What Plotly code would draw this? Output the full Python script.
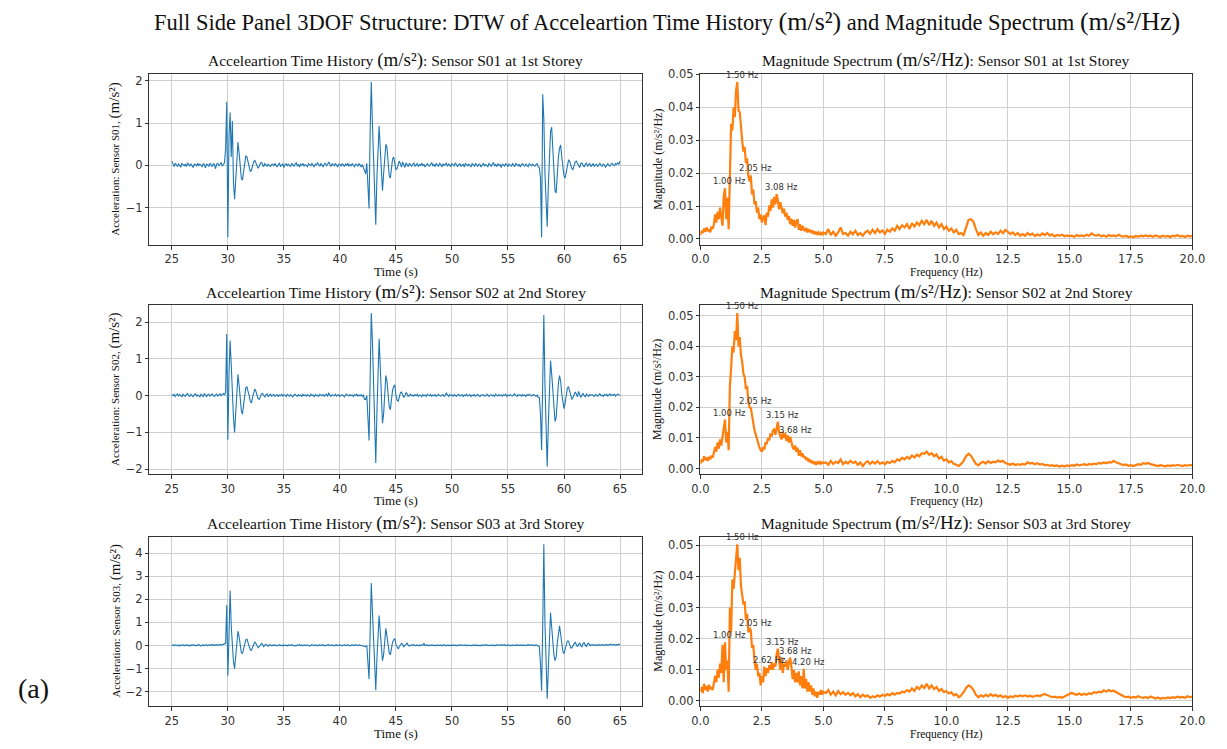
import numpy as np
import plotly.graph_objects as go

# ---------------- time-history data (sampling grid 0.1 s starting at 25 s) ----------------
T_START = 25.0
T_STEP = 0.1

s01_quiet1 = [0.10,0.02,-0.03,0.04,0.01,-0.02,0.03,0.00,-0.04,0.05,
              0.02,-0.01,0.03,-0.03,0.06,0.01,-0.02,0.04,0.00,-0.05,
              0.03,0.02,-0.02,0.05,-0.01,0.03,0.00,-0.03,0.04,0.02,
              -0.06,0.03,0.01,-0.02,0.05,0.00,-0.03,0.04,0.02,-0.08,
              0.03,0.05,-0.01,0.02,0.07,-0.02,0.04,0.06]
s01_burst1 = [0.40,1.50,-1.70,0.70,1.25,0.20,1.05,-0.40,-0.80,-0.30,
              0.30,0.55,0.30,0.00,-0.30,-0.35,-0.15,0.10,0.22,0.20,
              0.05,-0.08,-0.15,-0.12,0.00,0.08,0.12,0.05,-0.04,-0.07,
              -0.02,0.05,0.07,0.02,-0.03,0.04,0.01,-0.02,0.03,0.00,
              -0.03,0.02]
s01_quiet2 = [0.03,-0.01,0.04,0.00,-0.04,0.02,0.05,-0.02,0.01,0.03,
              -0.05,0.02,0.04,-0.01,0.03,0.00,-0.03,0.05,0.01,-0.02,
              0.03,0.06,-0.01,0.02,-0.04,0.03,0.01,0.04,-0.02,0.02,
              0.00,-0.03,0.04,0.02,-0.01,0.05,0.00,-0.04,0.03,0.01,
              0.06,0.02,-0.02,0.04,0.01,-0.03,0.03,0.05,-0.01,0.02,
              0.08,0.01,-0.03,0.04,0.02,-0.01,0.05,0.00,-0.04,0.03,
              0.02,-0.02,0.04,0.01,-0.03,0.03,0.00,0.05,-0.02,0.02,
              -0.01,0.04,0.00,-0.03,0.03,0.02,-0.02,0.04,0.01,-0.04,
              0.02,-0.05,-0.10]
s01_burst2 = [-0.20,0.05,-0.50,-1.02,0.80,1.97,1.00,0.20,-0.90,-1.40,
              -0.30,0.60,0.93,0.40,-0.30,-0.60,-0.20,0.25,0.50,0.42,
              0.00,-0.25,-0.30,-0.05,0.15,0.20,0.05,-0.10,-0.08,0.05,
              0.10,0.04,-0.04,0.08,0.03,-0.05,0.06,0.02,-0.03,0.05,
              0.01,-0.02]
s01_quiet3 = [0.03,0.05,-0.02,0.01,0.04,-0.03,0.02,0.00,0.05,-0.01,
              0.03,-0.04,0.02,0.04,0.00,-0.02,0.03,0.06,-0.01,0.02,
              -0.03,0.04,0.01,-0.02,0.05,0.02,-0.04,0.03,0.00,0.02,
              0.05,-0.02,0.03,0.01,-0.03,0.04,0.02,-0.01,0.06,0.00,
              -0.03,0.02,0.04,-0.02,0.01,0.03,-0.04,0.05,0.02,-0.01,
              0.03,0.00,-0.03,0.04,0.02,-0.02,0.05,0.01,-0.03,0.03,
              0.02,-0.04,0.03,0.05,-0.01,0.02,0.00,-0.03,0.04,0.01,
              -0.02,0.03,0.06,-0.01,0.02,-0.03,0.04,0.00,0.02,-0.05,
              0.03,0.01,-0.02,0.04,0.02,-0.03,0.03,0.00,-0.02,0.04,
              0.01,-0.03,0.05,0.02,-0.01,0.03,-0.04,0.02,0.04,0.00,
              -0.02,0.03,0.01,-0.03,0.04,0.02,-0.01,0.03,0.00,-0.02,
              0.02,0.04,-0.03]
s01_burst3 = [-0.05,-0.30,-1.70,1.68,1.10,-0.20,-1.00,-1.45,-0.50,0.40,
              0.80,0.90,0.30,-0.30,-0.60,-0.65,-0.20,0.20,0.40,0.48,
              0.20,-0.10,-0.25,-0.30,-0.15,0.05,0.12,0.10,0.00,-0.08,
              -0.10,-0.02,0.08,0.10,0.05,-0.03,-0.05,0.04,0.06,0.00,
              -0.04,0.03,0.05,-0.02,0.01,0.04,-0.03]
s01_quiet4 = [0.02,0.04,-0.02,0.01,0.03,-0.03,0.02,0.05,0.00,-0.02,
              0.03,0.01,-0.04,0.02,0.04,0.00,-0.02,0.03,0.05,0.01,
              -0.01,0.04,0.02,0.06,0.03,0.10]

s02_quiet1 = [0.03,0.00,0.04,-0.02,0.02,0.05,-0.01,0.03,0.00,-0.03,
              0.04,0.02,-0.02,0.03,0.06,0.00,-0.02,0.04,0.01,-0.03,
              0.03,0.05,-0.01,0.02,0.00,-0.03,0.04,0.02,-0.02,0.05,
              0.01,-0.02,0.03,0.04,-0.01,0.02,0.05,0.00,-0.02,0.03,
              0.04,-0.01,0.02,0.05,0.00,0.03,0.06,0.02]
s02_burst1 = [0.10,1.68,-1.20,0.60,1.50,0.85,-0.20,-0.60,-1.00,-0.40,
              0.30,0.58,0.30,-0.10,-0.40,-0.50,-0.20,0.10,0.22,0.24,
              0.15,0.00,-0.15,-0.20,-0.05,0.10,0.18,0.12,0.00,-0.08,
              -0.10,-0.02,0.05,0.06,0.00,-0.04,0.03,0.05,-0.02,0.02,
              0.04,-0.01]
s02_quiet2 = [0.02,0.04,-0.02,0.01,0.03,-0.03,0.02,0.00,0.04,-0.01,
              0.03,0.01,-0.02,0.04,0.02,-0.01,0.03,0.00,-0.03,0.02,
              0.04,0.01,-0.02,0.03,0.00,0.02,-0.03,0.04,0.01,0.02,
              -0.01,0.03,0.00,-0.02,0.04,0.01,0.02,-0.03,0.03,0.00,
              0.02,-0.02,0.04,0.01,0.00,0.03,-0.01,0.02,0.04,-0.02,
              0.08,0.01,-0.02,0.03,0.02,0.00,0.04,-0.01,0.02,0.03,
              -0.02,0.01,0.03,0.00,-0.03,0.02,0.04,0.01,-0.01,0.03,
              0.00,0.02,-0.02,0.03,0.01,0.04,-0.01,0.02,0.00,0.03,
              -0.02,0.01,-0.10]
s02_burst2 = [-0.10,0.00,-0.60,-1.22,0.50,2.25,1.50,0.10,-1.20,-1.83,
              -0.50,0.80,1.55,0.80,-0.20,-0.75,-0.50,0.10,0.55,0.40,
              0.00,-0.30,-0.38,-0.10,0.15,0.25,0.30,0.00,-0.12,-0.15,
              -0.02,0.08,0.10,0.02,-0.05,0.00,0.08,0.05,-0.03,0.02,
              0.04,0.00]
s02_quiet3 = [0.02,-0.01,0.03,0.00,0.04,-0.02,0.02,0.01,-0.03,0.03,
              0.00,0.02,-0.02,0.04,0.01,0.00,0.03,-0.01,0.02,0.00,
              0.03,-0.02,0.01,0.04,0.00,-0.01,0.02,0.03,-0.02,0.01,
              0.07,0.00,-0.02,0.03,0.01,0.02,-0.01,0.03,0.00,-0.02,
              0.02,0.04,-0.01,0.01,0.03,-0.02,0.02,0.00,0.04,-0.01,
              0.01,0.03,-0.02,0.02,0.00,0.03,-0.01,0.02,0.04,0.00,
              -0.02,0.02,0.01,0.03,-0.01,0.00,0.04,0.02,-0.02,0.01,
              0.03,0.00,0.02,-0.02,0.04,0.01,-0.01,0.03,0.00,0.02,
              -0.01,0.03,0.01,0.04,-0.02,0.02,0.00,0.03,0.01,-0.01,
              0.02,0.05,0.00,-0.02,0.03,0.01,0.02,-0.01,0.03,0.00,
              0.02,-0.02,0.03,0.01,0.04,0.00,-0.01,0.02,0.03,0.01,
              -0.02,0.02,-0.05]
s02_burst3 = [-0.05,-0.50,-1.48,1.10,2.20,0.30,-0.60,-1.93,-0.80,0.30,
              0.95,0.60,0.10,-0.40,-0.70,-0.60,0.00,0.35,0.55,0.40,
              0.05,-0.20,-0.35,-0.20,0.05,0.20,0.25,0.10,-0.05,-0.10,
              -0.05,0.05,0.10,0.05,-0.03,0.12,0.05,-0.05,0.02,0.06,
              0.00,-0.03,0.04,0.02,-0.02,0.03,0.01]
s02_quiet4 = [0.03,0.00,-0.02,0.04,0.02,-0.01,0.03,0.05,0.00,0.02,
              -0.02,0.03,0.01,0.04,-0.01,0.02,0.05,0.00,0.03,0.01,
              0.04,-0.01,0.02,0.05,0.03,0.01]

s03_quiet1 = [0.02,0.03,-0.01,0.04,0.01,0.00,0.03,-0.02,0.02,0.01,
              0.04,-0.01,0.02,0.03,0.00,0.02,-0.02,0.03,0.01,0.04,
              0.00,0.02,-0.01,0.03,0.05,0.01,-0.02,0.02,0.03,0.00,
              0.02,0.04,-0.01,0.03,0.01,0.02,0.05,0.00,0.03,0.02,
              0.04,0.01,0.03,0.05,0.02,0.04,0.03,0.06]
s03_burst1 = [0.10,1.75,-1.30,0.40,2.38,0.85,-0.30,-0.70,-1.00,-0.40,
              0.30,0.62,0.40,-0.05,-0.30,-0.35,-0.15,0.10,0.25,0.28,
              0.15,-0.05,-0.18,-0.20,-0.05,0.10,0.15,0.10,-0.05,-0.10,
              -0.05,0.05,0.10,0.05,-0.05,0.02,0.06,0.00,-0.03,0.04,
              0.02,0.00]
s03_quiet2 = [0.02,0.00,0.03,0.01,-0.01,0.02,0.04,0.00,0.02,-0.01,
              0.03,0.01,0.02,-0.02,0.03,0.00,0.02,0.04,0.01,0.00,
              0.02,-0.01,0.03,0.01,0.05,0.00,0.02,-0.01,0.03,0.02,
              0.00,0.03,0.01,-0.02,0.02,0.04,0.01,0.00,0.03,0.02,
              -0.01,0.02,0.03,0.00,0.02,0.04,-0.01,0.01,0.03,0.02,
              0.04,0.01,0.00,0.03,0.02,-0.01,0.02,0.03,0.00,0.02,
              0.03,0.01,-0.01,0.02,0.04,0.00,0.02,0.03,0.01,-0.01,
              0.02,0.03,0.00,0.02,0.04,0.01,0.00,0.03,0.02,0.01,
              0.00,-0.02,-0.05]
s03_burst2 = [-0.05,0.00,-0.70,-1.45,0.60,2.70,1.50,0.20,-1.20,-1.93,
              -0.60,0.60,1.30,0.60,-0.20,-0.65,-0.40,0.20,0.75,0.40,
              0.00,-0.30,-0.40,-0.10,0.15,0.25,0.30,0.05,-0.10,-0.15,
              -0.05,0.05,0.10,0.05,-0.05,0.00,0.08,0.10,0.02,-0.03,
              0.02,0.01]
s03_quiet3 = [0.02,0.04,0.00,0.01,0.03,-0.01,0.02,0.00,0.03,0.01,
              0.10,0.00,0.02,0.03,-0.01,0.02,0.00,0.03,0.01,0.02,
              -0.01,0.02,0.03,0.00,0.01,0.03,-0.01,0.02,0.04,0.00,
              0.01,0.03,0.02,-0.01,0.02,0.00,0.03,0.01,0.02,-0.01,
              0.03,0.00,0.02,0.04,0.01,0.00,0.02,0.03,-0.01,0.02,
              0.01,0.03,0.00,0.02,0.01,0.04,0.00,0.02,0.03,0.01,
              -0.01,0.02,0.00,0.03,0.01,0.02,0.04,0.00,0.01,0.03,
              0.02,0.00,0.03,-0.01,0.02,0.04,0.01,0.02,0.00,0.03,
              0.01,0.02,0.04,0.00,0.02,0.01,0.03,-0.01,0.02,0.03,
              0.00,0.02,0.01,0.03,0.02,0.00,0.04,0.01,0.02,0.03,
              0.01,0.00,0.03,0.02,0.04,0.01,0.02,0.03,0.00,0.02,
              0.03,0.01,-0.04]
s03_burst3 = [-0.05,-0.80,-1.95,0.80,4.38,1.00,-0.80,-2.30,-1.00,0.40,
              1.42,0.80,0.00,-0.40,-0.65,-0.50,0.10,0.50,0.85,0.50,
              0.00,-0.25,-0.35,-0.20,0.05,0.20,0.20,0.05,-0.10,-0.10,
              0.00,0.10,0.15,0.05,-0.05,0.05,0.10,0.00,-0.05,0.10,
              0.12,0.02,-0.05,0.08,0.10,0.00,0.03]
s03_quiet4 = [0.02,0.04,0.01,0.03,0.00,0.02,0.05,0.01,0.03,0.02,
              0.04,0.00,0.03,0.05,0.01,0.02,0.04,0.06,0.02,0.03,
              0.05,0.01,0.04,0.03,0.06,0.05]

# ---------------- magnitude spectra (0-5 Hz every 0.05 Hz, 5.1-20 Hz every 0.1 Hz) ----------------
F_LOW_START, F_LOW_STEP = 0.0, 0.05
F_HIGH_START, F_HIGH_STEP = 5.1, 0.1

mag_s01_low = [0.0012,0.0025,0.0018,0.0032,0.0022,0.0035,0.0024,0.0030,0.0020,0.0038,
               0.0030,0.0045,0.0075,0.0050,0.0082,0.0060,0.0095,0.0070,0.0040,0.0130,
               0.0154,0.0060,0.0125,0.0030,0.0210,0.0350,0.0330,0.0400,0.0370,0.0450,
               0.0477,0.0390,0.0385,0.0330,0.0300,0.0265,0.0280,0.0230,0.0245,0.0190,
               0.0175,0.0193,0.0135,0.0150,0.0105,0.0115,0.0080,0.0095,0.0060,0.0075,
               0.0050,0.0065,0.0072,0.0042,0.0080,0.0068,0.0102,0.0085,0.0120,0.0095,
               0.0128,0.0105,0.0136,0.0118,0.0090,0.0112,0.0098,0.0078,0.0092,0.0068,
               0.0080,0.0058,0.0070,0.0045,0.0062,0.0040,0.0058,0.0035,0.0052,0.0060,
               0.0028,0.0045,0.0025,0.0040,0.0030,0.0024,0.0034,0.0020,0.0030,0.0021,
               0.0027,0.0017,0.0025,0.0014,0.0022,0.0015,0.0020,0.0012,0.0018,0.0012,
               0.0020]
mag_s01_high = [0.0015,0.0030,0.0012,0.0022,0.0010,0.0020,0.0035,0.0015,0.0018,0.0010,
                0.0022,0.0014,0.0025,0.0012,0.0018,0.0010,0.0020,0.0025,0.0016,0.0028,
                0.0018,0.0030,0.0020,0.0026,0.0015,0.0028,0.0022,0.0032,0.0025,0.0040,
                0.0030,0.0042,0.0035,0.0045,0.0030,0.0048,0.0038,0.0050,0.0042,0.0055,
                0.0045,0.0058,0.0042,0.0055,0.0040,0.0050,0.0035,0.0045,0.0030,0.0038,
                0.0025,0.0032,0.0020,0.0028,0.0015,0.0018,0.0012,0.0035,0.0058,0.0060,
                0.0052,0.0030,0.0012,0.0020,0.0010,0.0018,0.0012,0.0022,0.0014,0.0020,
                0.0015,0.0025,0.0018,0.0028,0.0022,0.0015,0.0020,0.0012,0.0018,0.0010,
                0.0015,0.0010,0.0018,0.0012,0.0016,0.0009,0.0014,0.0010,0.0017,0.0012,
                0.0018,0.0010,0.0014,0.0008,0.0012,0.0010,0.0013,0.0008,0.0011,0.0009,
                0.0010,0.0007,0.0012,0.0009,0.0011,0.0008,0.0013,0.0010,0.0017,0.0012,
                0.0010,0.0013,0.0008,0.0011,0.0007,0.0012,0.0009,0.0011,0.0008,0.0013,
                0.0009,0.0007,0.0010,0.0006,0.0008,0.0005,0.0009,0.0007,0.0010,0.0008,
                0.0011,0.0008,0.0010,0.0007,0.0011,0.0009,0.0006,0.0010,0.0007,0.0009,
                0.0006,0.0010,0.0008,0.0012,0.0007,0.0009,0.0006,0.0010,0.0008,0.0009]

mag_s02_low = [0.0015,0.0030,0.0022,0.0040,0.0028,0.0035,0.0025,0.0038,0.0030,0.0042,
               0.0035,0.0050,0.0070,0.0055,0.0085,0.0065,0.0095,0.0075,0.0110,0.0130,
               0.0160,0.0085,0.0120,0.0060,0.0270,0.0330,0.0400,0.0380,0.0450,0.0420,
               0.0509,0.0400,0.0430,0.0370,0.0350,0.0310,0.0300,0.0260,0.0270,0.0220,
               0.0200,0.0198,0.0165,0.0150,0.0125,0.0110,0.0095,0.0085,0.0070,0.0060,
               0.0055,0.0070,0.0062,0.0085,0.0080,0.0100,0.0092,0.0115,0.0105,0.0125,
               0.0128,0.0110,0.0140,0.0153,0.0118,0.0105,0.0095,0.0120,0.0100,0.0115,
               0.0090,0.0108,0.0085,0.0104,0.0080,0.0070,0.0062,0.0075,0.0055,0.0068,
               0.0042,0.0060,0.0040,0.0050,0.0035,0.0040,0.0028,0.0035,0.0022,0.0030,
               0.0018,0.0025,0.0015,0.0022,0.0012,0.0020,0.0014,0.0024,0.0016,0.0020,
               0.0018]
mag_s02_high = [0.0020,0.0012,0.0025,0.0015,0.0022,0.0018,0.0030,0.0014,0.0022,0.0016,
                0.0025,0.0018,0.0022,0.0012,0.0020,0.0008,0.0018,0.0024,0.0015,0.0022,
                0.0016,0.0024,0.0015,0.0020,0.0014,0.0022,0.0018,0.0025,0.0020,0.0030,
                0.0026,0.0035,0.0030,0.0038,0.0032,0.0042,0.0036,0.0045,0.0040,0.0050,
                0.0048,0.0055,0.0045,0.0050,0.0040,0.0046,0.0032,0.0038,0.0026,0.0030,
                0.0020,0.0024,0.0015,0.0012,0.0008,0.0015,0.0025,0.0040,0.0048,0.0042,
                0.0030,0.0015,0.0010,0.0018,0.0022,0.0016,0.0024,0.0018,0.0022,0.0020,
                0.0026,0.0022,0.0025,0.0018,0.0015,0.0012,0.0016,0.0011,0.0014,0.0012,
                0.0015,0.0013,0.0020,0.0016,0.0018,0.0014,0.0017,0.0013,0.0015,0.0010,
                0.0012,0.0009,0.0011,0.0008,0.0010,0.0006,0.0009,0.0007,0.0010,0.0008,
                0.0011,0.0009,0.0013,0.0010,0.0012,0.0014,0.0011,0.0015,0.0013,0.0016,
                0.0014,0.0018,0.0016,0.0020,0.0017,0.0021,0.0019,0.0025,0.0020,0.0016,
                0.0014,0.0011,0.0013,0.0009,0.0011,0.0008,0.0012,0.0014,0.0012,0.0017,
                0.0015,0.0018,0.0014,0.0012,0.0010,0.0008,0.0011,0.0009,0.0007,0.0010,
                0.0008,0.0011,0.0009,0.0012,0.0010,0.0008,0.0011,0.0009,0.0012,0.0010]

mag_s03_low = [0.0030,0.0045,0.0025,0.0055,0.0035,0.0048,0.0030,0.0052,0.0038,0.0045,
               0.0035,0.0055,0.0080,0.0060,0.0100,0.0075,0.0120,0.0090,0.0180,0.0060,
               0.0188,0.0100,0.0130,0.0030,0.0300,0.0220,0.0390,0.0360,0.0410,0.0440,
               0.0503,0.0420,0.0460,0.0370,0.0340,0.0310,0.0320,0.0260,0.0280,0.0220,
               0.0235,0.0227,0.0170,0.0180,0.0130,0.0100,0.0120,0.0080,0.0090,0.0050,
               0.0080,0.0060,0.0110,0.0080,0.0105,0.0090,0.0115,0.0100,0.0125,0.0100,
               0.0120,0.0110,0.0150,0.0168,0.0130,0.0100,0.0140,0.0090,0.0120,0.0110,
               0.0130,0.0100,0.0125,0.0139,0.0110,0.0070,0.0100,0.0060,0.0090,0.0060,
               0.0095,0.0050,0.0080,0.0040,0.0103,0.0040,0.0070,0.0030,0.0060,0.0030,
               0.0050,0.0020,0.0040,0.0015,0.0030,0.0010,0.0030,0.0020,0.0035,0.0020,
               0.0030]
mag_s03_high = [0.0025,0.0035,0.0020,0.0030,0.0018,0.0032,0.0022,0.0028,0.0020,0.0026,
                0.0018,0.0025,0.0015,0.0022,0.0012,0.0020,0.0014,0.0018,0.0010,0.0015,
                0.0012,0.0018,0.0014,0.0020,0.0016,0.0022,0.0018,0.0025,0.0020,0.0026,
                0.0024,0.0030,0.0028,0.0035,0.0030,0.0040,0.0032,0.0045,0.0038,0.0050,
                0.0042,0.0055,0.0040,0.0050,0.0038,0.0045,0.0032,0.0038,0.0028,0.0032,
                0.0024,0.0028,0.0018,0.0022,0.0012,0.0018,0.0028,0.0042,0.0050,0.0045,
                0.0035,0.0020,0.0012,0.0018,0.0014,0.0020,0.0015,0.0022,0.0016,0.0020,
                0.0014,0.0018,0.0012,0.0016,0.0010,0.0015,0.0012,0.0017,0.0014,0.0018,
                0.0015,0.0018,0.0014,0.0017,0.0013,0.0016,0.0018,0.0015,0.0020,0.0022,
                0.0018,0.0015,0.0012,0.0014,0.0011,0.0013,0.0010,0.0014,0.0018,0.0022,
                0.0026,0.0022,0.0020,0.0024,0.0019,0.0023,0.0020,0.0025,0.0022,0.0028,
                0.0026,0.0030,0.0028,0.0034,0.0030,0.0035,0.0031,0.0033,0.0028,0.0024,
                0.0018,0.0015,0.0012,0.0014,0.0010,0.0013,0.0011,0.0015,0.0012,0.0010,
                0.0012,0.0009,0.0014,0.0010,0.0008,0.0011,0.0007,0.0010,0.0008,0.0011,
                0.0009,0.0012,0.0010,0.0014,0.0011,0.0013,0.0010,0.0015,0.0012,0.0014]

# labelled peaks
peak_freqs_s01 = [1.50, 1.00, 2.05, 3.08]
peak_mags_s01 = [0.0477, 0.0154, 0.0193, 0.0136]
peak_freqs_s02 = [1.50, 1.00, 2.05, 3.15, 3.68]
peak_mags_s02 = [0.0509, 0.0160, 0.0198, 0.0153, 0.0104]
peak_freqs_s03 = [1.50, 1.00, 2.05, 3.15, 3.68, 2.62, 4.20]
peak_mags_s03 = [0.0503, 0.0188, 0.0227, 0.0168, 0.0139, 0.0110, 0.0103]

sensor_ids = ["S01", "S02", "S03"]
storeys = ["1st", "2nd", "3rd"]

# ---------------- build arrays ----------------
def join(*parts):
    return np.concatenate([np.asarray(p, dtype=float) for p in parts])

acc = [
    join(s01_quiet1, s01_burst1, s01_quiet2, s01_burst2, s01_quiet3, s01_burst3, s01_quiet4),
    join(s02_quiet1, s02_burst1, s02_quiet2, s02_burst2, s02_quiet3, s02_burst3, s02_quiet4),
    join(s03_quiet1, s03_burst1, s03_quiet2, s03_burst2, s03_quiet3, s03_burst3, s03_quiet4),
]
times = [np.round(T_START + T_STEP * np.arange(len(a)), 2) for a in acc]

mags = [join(mag_s01_low, mag_s01_high), join(mag_s02_low, mag_s02_high), join(mag_s03_low, mag_s03_high)]
freqs = [join(np.round(F_LOW_START + F_LOW_STEP * np.arange(len(lo)), 3),
              np.round(F_HIGH_START + F_HIGH_STEP * np.arange(len(hi)), 3))
         for lo, hi in [(mag_s01_low, mag_s01_high), (mag_s02_low, mag_s02_high), (mag_s03_low, mag_s03_high)]]
peaks = [(peak_freqs_s01, peak_mags_s01), (peak_freqs_s02, peak_mags_s02), (peak_freqs_s03, peak_mags_s03)]

# ---------------- layout geometry ----------------
W, H = 1227, 749
LEFT_X = [143 / W, 645 / W]
RIGHT_X = [704 / W, 1205 / W]
ROWS_PX = [(68, 241), (302, 473), (536, 708)]

SERIF = "Liberation Serif, Times New Roman, serif"
SANS = "DejaVu Sans, Arial, sans-serif"
TXT = "#111111"
TICK = "#333333"

fig = go.Figure()
annotations = []
layout_axes = {}

def pad_range(vals, frac=0.05):
    lo, hi = float(np.min(vals)), float(np.max(vals))
    p = (hi - lo) * frac
    return [lo - p, hi + p]

axis_common = dict(showline=True, mirror=True, linecolor="#333333", linewidth=1,
                   ticks="outside", ticklen=3.5, tickwidth=1, tickcolor="#333333",
                   showgrid=True, gridcolor="#cfcfcf", gridwidth=1, zeroline=False,
                   tickfont=dict(family=SANS, size=11.5, color=TICK))

UNIT_A = "(m/s²)"
UNIT_M = "(m/s²/Hz)"

for r in range(3):
    top, bot = ROWS_PX[r]
    ydom = [1 - bot / H, 1 - top / H]
    li, ri = 2 * r + 1, 2 * r + 2
    lx, ly = f"x{li}", f"y{li}"
    rx, ry = f"x{ri}", f"y{ri}"

    fig.add_trace(go.Scatter(x=times[r], y=acc[r], mode="lines",
                             line=dict(color="#1f77b4", width=1.1),
                             xaxis=lx, yaxis=ly, showlegend=False))
    fig.add_trace(go.Scatter(x=freqs[r], y=mags[r], mode="lines",
                             line=dict(color="#ff7f0e", width=2.2),
                             xaxis=rx, yaxis=ry, showlegend=False))

    layout_axes[f"xaxis{li}"] = dict(axis_common, domain=LEFT_X, anchor=ly, range=pad_range(times[r]),
                                      tick0=25, dtick=5)
    layout_axes[f"yaxis{li}"] = dict(axis_common, domain=ydom, anchor=lx, range=pad_range(acc[r]),
                                      tick0=0, dtick=1)
    layout_axes[f"xaxis{ri}"] = dict(axis_common, domain=RIGHT_X, anchor=ry, range=[0, 20],
                                      tick0=0, dtick=2.5, tickformat=".1f")
    layout_axes[f"yaxis{ri}"] = dict(axis_common, domain=ydom, anchor=rx, range=pad_range(mags[r]),
                                      tick0=0, dtick=0.01, tickformat=".2f")

    sid, st = sensor_ids[r], storeys[r]
    # subplot titles
    annotations.append(dict(
        text=f"Acceleartion Time History <span style='font-size:19px'>{UNIT_A}</span>: Sensor {sid} at {st} Storey",
        x=(LEFT_X[0] + LEFT_X[1]) / 2, y=1 - (top - 14) / H, xref="paper", yref="paper",
        xanchor="center", yanchor="middle", showarrow=False, font=dict(family=SERIF, size=15.5, color=TXT)))
    annotations.append(dict(
        text=f"Magnitude Spectrum <span style='font-size:19px'>{UNIT_M}</span>: Sensor {sid} at {st} Storey",
        x=(RIGHT_X[0] + RIGHT_X[1]) / 2, y=1 - (top - 14) / H, xref="paper", yref="paper",
        xanchor="center", yanchor="middle", showarrow=False, font=dict(family=SERIF, size=15.5, color=TXT)))
    # x axis titles
    annotations.append(dict(text="Time (s)", x=(LEFT_X[0] + LEFT_X[1]) / 2, y=1 - (bot + 27) / H,
                            xref="paper", yref="paper", xanchor="center", yanchor="middle",
                            showarrow=False, font=dict(family=SERIF, size=13, color=TXT)))
    annotations.append(dict(text="Frequency (Hz)", x=(RIGHT_X[0] + RIGHT_X[1]) / 2, y=1 - (bot + 28) / H,
                            xref="paper", yref="paper", xanchor="center", yanchor="middle",
                            showarrow=False, font=dict(family=SERIF, size=11.5, color=TXT)))
    # y axis titles
    annotations.append(dict(
        text=f"Acceleration: Sensor {sid}, <span style='font-size:15px'>{UNIT_A}</span>",
        x=108 / W, y=1 - (top + bot) / 2 / H, xref="paper", yref="paper", textangle=-90,
        xanchor="center", yanchor="middle", showarrow=False, font=dict(family=SERIF, size=11, color=TXT)))
    annotations.append(dict(
        text=f"Magnitude {UNIT_M}",
        x=660 / W, y=1 - (top + bot) / 2 / H, xref="paper", yref="paper", textangle=-90,
        xanchor="center", yanchor="middle", showarrow=False, font=dict(family=SERIF, size=12, color=TXT)))
    # peak labels
    for f, m in zip(*peaks[r]):
        annotations.append(dict(text=f"{f:.2f} Hz", x=f, y=m, xref=rx, yref=ry,
                                xanchor="center", yanchor="bottom", xshift=5, showarrow=False,
                                font=dict(family=SANS, size=8.5, color="#333333")))

# main title and panel label
annotations.append(dict(
    text="Full Side Panel 3DOF Structure: DTW of Acceleartion Time History "
         f"<span style='font-size:26px'>{UNIT_A}</span> and Magnitude Spectrum "
         f"<span style='font-size:26px'>{UNIT_M}</span>",
    x=670 / W, y=1 - 15 / H, xref="paper", yref="paper", xanchor="center", yanchor="middle",
    showarrow=False, font=dict(family=SERIF, size=22.5, color=TXT)))
annotations.append(dict(text="(a)", x=25 / W, y=1 - 690 / H, xref="paper", yref="paper",
                        xanchor="center", yanchor="middle", showarrow=False,
                        font=dict(family=SERIF, size=28, color=TXT)))

fig.update_layout(width=W, height=H, margin=dict(l=0, r=0, t=0, b=0),
                  paper_bgcolor="white", plot_bgcolor="white",
                  annotations=annotations, **layout_axes)

fig.write_html("out.html")
